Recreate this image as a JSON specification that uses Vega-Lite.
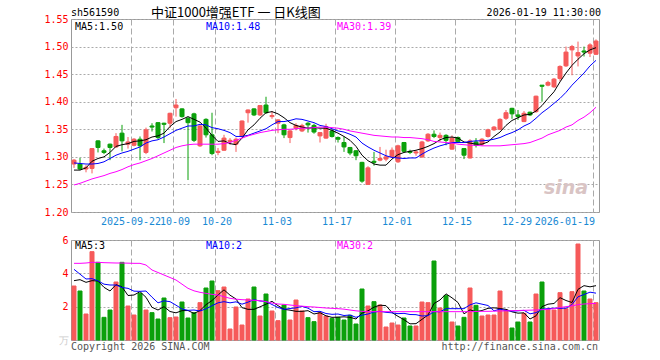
{
  "$schema": "https://vega.github.io/schema/vega-lite/v6.json",
  "background": "white",
  "padding": {"left": 43, "top": 6, "right": 0, "bottom": 0},
  "bounds": "flush",
  "spacing": 28,
  "config": {
    "view": {"stroke": "#999999", "strokeWidth": 1},
    "font": "DejaVu Sans Mono",
    "axis": {"labelFont": "DejaVu Sans Mono", "labelFontSize": 10, "title": null, "labelOverlap": false},
    "axisY": {"labelOverlap": false, "labelFlush": false, "labelBound": false}
  },
  "data": {"values": [
    {"d":"2025-09-08","o":1.287,"h":1.296,"l":1.280,"c":1.294,"v":3.24,"ma5":1.276,"ma10":1.289,"ma30":1.249,"vma5":3.56,"vma10":4.24,"vma30":4.60},
    {"d":"2025-09-09","o":1.287,"h":1.298,"l":1.276,"c":1.278,"v":2.94,"ma5":1.276,"ma10":1.288,"ma30":1.252,"vma5":3.62,"vma10":3.95,"vma30":4.60},
    {"d":"2025-09-10","o":1.278,"h":1.285,"l":1.272,"c":1.281,"v":1.56,"ma5":1.280,"ma10":1.287,"ma30":1.256,"vma5":3.46,"vma10":3.66,"vma30":4.62},
    {"d":"2025-09-11","o":1.279,"h":1.316,"l":1.270,"c":1.315,"v":5.30,"ma5":1.292,"ma10":1.287,"ma30":1.260,"vma5":3.56,"vma10":3.68,"vma30":4.66},
    {"d":"2025-09-12","o":1.329,"h":1.330,"l":1.308,"c":1.317,"v":4.66,"ma5":1.297,"ma10":1.288,"ma30":1.263,"vma5":3.54,"vma10":3.55,"vma30":4.66},
    {"d":"2025-09-15","o":1.311,"h":1.315,"l":1.305,"c":1.308,"v":1.36,"ma5":1.300,"ma10":1.291,"ma30":1.266,"vma5":3.16,"vma10":3.35,"vma30":4.64},
    {"d":"2025-09-16","o":1.323,"h":1.324,"l":1.294,"c":1.317,"v":1.80,"ma5":1.308,"ma10":1.297,"ma30":1.270,"vma5":2.94,"vma10":3.30,"vma30":4.63},
    {"d":"2025-09-17","o":1.318,"h":1.343,"l":1.316,"c":1.337,"v":3.48,"ma5":1.319,"ma10":1.303,"ma30":1.273,"vma5":3.32,"vma10":3.30,"vma30":4.62},
    {"d":"2025-09-18","o":1.343,"h":1.358,"l":1.310,"c":1.329,"v":4.66,"ma5":1.322,"ma10":1.307,"ma30":1.277,"vma5":3.19,"vma10":3.15,"vma30":4.62},
    {"d":"2025-09-19","o":1.323,"h":1.336,"l":1.315,"c":1.327,"v":2.04,"ma5":1.324,"ma10":1.310,"ma30":1.282,"vma5":2.67,"vma10":3.10,"vma30":4.61},
    {"d":"2025-09-22","o":1.321,"h":1.334,"l":1.319,"c":1.332,"v":1.50,"ma5":1.328,"ma10":1.314,"ma30":1.286,"vma5":2.70,"vma10":2.93,"vma30":4.60},
    {"d":"2025-09-23","o":1.332,"h":1.337,"l":1.294,"c":1.320,"v":2.80,"ma5":1.329,"ma10":1.318,"ma30":1.289,"vma5":2.90,"vma10":2.92,"vma30":4.60},
    {"d":"2025-09-24","o":1.308,"h":1.353,"l":1.305,"c":1.349,"v":1.80,"ma5":1.331,"ma10":1.325,"ma30":1.293,"vma5":2.56,"vma10":2.94,"vma30":4.50},
    {"d":"2025-09-25","o":1.356,"h":1.361,"l":1.346,"c":1.354,"v":1.64,"ma5":1.336,"ma10":1.329,"ma30":1.297,"vma5":1.96,"vma10":2.57,"vma30":4.20},
    {"d":"2025-09-26","o":1.362,"h":1.363,"l":1.332,"c":1.335,"v":1.26,"ma5":1.338,"ma10":1.331,"ma30":1.302,"vma5":1.80,"vma10":2.23,"vma30":4.05},
    {"d":"2025-09-29","o":1.361,"h":1.362,"l":1.325,"c":1.359,"v":2.52,"ma5":1.343,"ma10":1.336,"ma30":1.307,"vma5":2.00,"vma10":2.35,"vma30":3.90},
    {"d":"2025-09-30","o":1.361,"h":1.380,"l":1.352,"c":1.379,"v":1.34,"ma5":1.355,"ma10":1.342,"ma30":1.312,"vma5":1.71,"vma10":2.30,"vma30":3.75},
    {"d":"2025-10-09","o":1.389,"h":1.405,"l":1.373,"c":1.394,"v":1.38,"ma5":1.364,"ma10":1.348,"ma30":1.317,"vma5":1.63,"vma10":2.09,"vma30":3.60},
    {"d":"2025-10-10","o":1.387,"h":1.388,"l":1.371,"c":1.373,"v":2.28,"ma5":1.368,"ma10":1.352,"ma30":1.320,"vma5":1.76,"vma10":1.86,"vma30":3.35},
    {"d":"2025-10-13","o":1.370,"h":1.372,"l":1.258,"c":1.362,"v":1.32,"ma5":1.373,"ma10":1.356,"ma30":1.322,"vma5":1.77,"vma10":1.78,"vma30":3.10},
    {"d":"2025-10-14","o":1.378,"h":1.380,"l":1.327,"c":1.330,"v":1.64,"ma5":1.368,"ma10":1.356,"ma30":1.323,"vma5":1.59,"vma10":1.80,"vma30":2.95},
    {"d":"2025-10-15","o":1.320,"h":1.358,"l":1.318,"c":1.356,"v":2.24,"ma5":1.363,"ma10":1.359,"ma30":1.323,"vma5":1.77,"vma10":1.74,"vma30":2.86},
    {"d":"2025-10-16","o":1.368,"h":1.370,"l":1.335,"c":1.340,"v":3.12,"ma5":1.352,"ma10":1.358,"ma30":1.323,"vma5":2.12,"vma10":1.87,"vma30":2.80},
    {"d":"2025-10-17","o":1.340,"h":1.380,"l":1.303,"c":1.306,"v":3.54,"ma5":1.339,"ma10":1.353,"ma30":1.323,"vma5":2.37,"vma10":2.06,"vma30":2.74},
    {"d":"2025-10-20","o":1.308,"h":1.316,"l":1.303,"c":1.310,"v":2.96,"ma5":1.328,"ma10":1.351,"ma30":1.323,"vma5":2.70,"vma10":2.23,"vma30":2.70},
    {"d":"2025-10-21","o":1.312,"h":1.340,"l":1.311,"c":1.334,"v":3.18,"ma5":1.329,"ma10":1.348,"ma30":1.324,"vma5":3.01,"vma10":2.30,"vma30":2.60},
    {"d":"2025-10-22","o":1.328,"h":1.334,"l":1.322,"c":1.330,"v":0.66,"ma5":1.324,"ma10":1.344,"ma30":1.326,"vma5":2.69,"vma10":2.23,"vma30":2.50},
    {"d":"2025-10-23","o":1.323,"h":1.335,"l":1.309,"c":1.332,"v":1.98,"ma5":1.322,"ma10":1.337,"ma30":1.330,"vma5":2.46,"vma10":2.29,"vma30":2.45},
    {"d":"2025-10-24","o":1.337,"h":1.366,"l":1.335,"c":1.365,"v":0.90,"ma5":1.334,"ma10":1.337,"ma30":1.334,"vma5":1.94,"vma10":2.15,"vma30":2.42},
    {"d":"2025-10-27","o":1.380,"h":1.386,"l":1.362,"c":1.385,"v":2.46,"ma5":1.349,"ma10":1.339,"ma30":1.338,"vma5":1.84,"vma10":2.27,"vma30":2.40},
    {"d":"2025-10-28","o":1.387,"h":1.388,"l":1.374,"c":1.376,"v":3.18,"ma5":1.358,"ma10":1.343,"ma30":1.341,"vma5":1.84,"vma10":2.42,"vma30":2.38},
    {"d":"2025-10-29","o":1.376,"h":1.394,"l":1.374,"c":1.393,"v":1.44,"ma5":1.370,"ma10":1.347,"ma30":1.344,"vma5":1.99,"vma10":2.34,"vma30":2.36},
    {"d":"2025-10-30","o":1.394,"h":1.409,"l":1.378,"c":1.380,"v":2.76,"ma5":1.380,"ma10":1.351,"ma30":1.346,"vma5":2.15,"vma10":2.31,"vma30":2.30},
    {"d":"2025-10-31","o":1.373,"h":1.383,"l":1.369,"c":1.375,"v":1.74,"ma5":1.382,"ma10":1.358,"ma30":1.348,"vma5":2.32,"vma10":2.13,"vma30":2.22},
    {"d":"2025-11-03","o":1.361,"h":1.368,"l":1.343,"c":1.367,"v":1.16,"ma5":1.378,"ma10":1.364,"ma30":1.349,"vma5":2.06,"vma10":1.95,"vma30":2.16},
    {"d":"2025-11-04","o":1.358,"h":1.360,"l":1.334,"c":1.340,"v":2.10,"ma5":1.371,"ma10":1.364,"ma30":1.350,"vma5":1.84,"vma10":1.84,"vma30":2.14},
    {"d":"2025-11-05","o":1.335,"h":1.349,"l":1.325,"c":1.347,"v":1.20,"ma5":1.362,"ma10":1.366,"ma30":1.350,"vma5":1.79,"vma10":1.89,"vma30":2.10},
    {"d":"2025-11-06","o":1.352,"h":1.361,"l":1.348,"c":1.357,"v":2.40,"ma5":1.357,"ma10":1.369,"ma30":1.351,"vma5":1.72,"vma10":1.93,"vma30":2.06},
    {"d":"2025-11-07","o":1.347,"h":1.360,"l":1.345,"c":1.357,"v":1.74,"ma5":1.354,"ma10":1.368,"ma30":1.352,"vma5":1.72,"vma10":2.02,"vma30":2.03},
    {"d":"2025-11-10","o":1.361,"h":1.363,"l":1.344,"c":1.358,"v":1.34,"ma5":1.352,"ma10":1.365,"ma30":1.352,"vma5":1.76,"vma10":1.91,"vma30":2.00},
    {"d":"2025-11-11","o":1.357,"h":1.360,"l":1.342,"c":1.345,"v":1.10,"ma5":1.353,"ma10":1.362,"ma30":1.353,"vma5":1.56,"vma10":1.70,"vma30":1.98},
    {"d":"2025-11-12","o":1.338,"h":1.345,"l":1.326,"c":1.344,"v":1.64,"ma5":1.352,"ma10":1.357,"ma30":1.354,"vma5":1.64,"vma10":1.72,"vma30":1.95},
    {"d":"2025-11-13","o":1.334,"h":1.360,"l":1.333,"c":1.355,"v":1.44,"ma5":1.352,"ma10":1.355,"ma30":1.354,"vma5":1.45,"vma10":1.59,"vma30":1.92},
    {"d":"2025-11-14","o":1.347,"h":1.350,"l":1.335,"c":1.337,"v":1.30,"ma5":1.348,"ma10":1.351,"ma30":1.353,"vma5":1.36,"vma10":1.54,"vma30":1.90},
    {"d":"2025-11-17","o":1.335,"h":1.337,"l":1.326,"c":1.332,"v":1.36,"ma5":1.343,"ma10":1.347,"ma30":1.352,"vma5":1.37,"vma10":1.56,"vma30":1.88},
    {"d":"2025-11-18","o":1.326,"h":1.337,"l":1.309,"c":1.318,"v":1.20,"ma5":1.337,"ma10":1.345,"ma30":1.350,"vma5":1.39,"vma10":1.47,"vma30":1.85},
    {"d":"2025-11-19","o":1.317,"h":1.318,"l":1.303,"c":1.307,"v":1.48,"ma5":1.330,"ma10":1.341,"ma30":1.347,"vma5":1.36,"vma10":1.50,"vma30":1.80},
    {"d":"2025-11-20","o":1.311,"h":1.312,"l":1.294,"c":1.302,"v":0.96,"ma5":1.319,"ma10":1.336,"ma30":1.345,"vma5":1.26,"vma10":1.36,"vma30":1.75},
    {"d":"2025-11-21","o":1.290,"h":1.291,"l":1.253,"c":1.256,"v":3.06,"ma5":1.303,"ma10":1.325,"ma30":1.343,"vma5":1.61,"vma10":1.49,"vma30":1.72},
    {"d":"2025-11-24","o":1.250,"h":1.283,"l":1.249,"c":1.280,"v":2.04,"ma5":1.293,"ma10":1.318,"ma30":1.341,"vma5":1.75,"vma10":1.56,"vma30":1.70},
    {"d":"2025-11-25","o":1.292,"h":1.309,"l":1.284,"c":1.290,"v":2.30,"ma5":1.287,"ma10":1.312,"ma30":1.339,"vma5":1.97,"vma10":1.68,"vma30":1.70},
    {"d":"2025-11-26","o":1.294,"h":1.318,"l":1.292,"c":1.297,"v":2.10,"ma5":1.285,"ma10":1.307,"ma30":1.338,"vma5":2.09,"vma10":1.72,"vma30":1.70},
    {"d":"2025-11-27","o":1.296,"h":1.313,"l":1.292,"c":1.300,"v":0.78,"ma5":1.285,"ma10":1.302,"ma30":1.337,"vma5":2.06,"vma10":1.66,"vma30":1.70},
    {"d":"2025-11-28","o":1.300,"h":1.317,"l":1.298,"c":1.312,"v":1.02,"ma5":1.296,"ma10":1.299,"ma30":1.336,"vma5":1.65,"vma10":1.63,"vma30":1.70},
    {"d":"2025-12-01","o":1.291,"h":1.322,"l":1.289,"c":1.320,"v":0.90,"ma5":1.304,"ma10":1.298,"ma30":1.336,"vma5":1.42,"vma10":1.58,"vma30":1.70},
    {"d":"2025-12-02","o":1.326,"h":1.327,"l":1.308,"c":1.310,"v":1.32,"ma5":1.308,"ma10":1.297,"ma30":1.335,"vma5":1.22,"vma10":1.60,"vma30":1.70},
    {"d":"2025-12-03","o":1.310,"h":1.313,"l":1.305,"c":1.308,"v":0.84,"ma5":1.310,"ma10":1.298,"ma30":1.335,"vma5":0.97,"vma10":1.53,"vma30":1.70},
    {"d":"2025-12-04","o":1.307,"h":1.312,"l":1.302,"c":1.309,"v":0.84,"ma5":1.312,"ma10":1.298,"ma30":1.334,"vma5":0.98,"vma10":1.52,"vma30":1.70},
    {"d":"2025-12-05","o":1.300,"h":1.329,"l":1.298,"c":1.327,"v":2.28,"ma5":1.315,"ma10":1.305,"ma30":1.333,"vma5":1.24,"vma10":1.44,"vma30":1.70},
    {"d":"2025-12-08","o":1.329,"h":1.343,"l":1.327,"c":1.341,"v":2.24,"ma5":1.319,"ma10":1.311,"ma30":1.331,"vma5":1.50,"vma10":1.46,"vma30":1.70},
    {"d":"2025-12-09","o":1.341,"h":1.348,"l":1.334,"c":1.337,"v":4.74,"ma5":1.324,"ma10":1.316,"ma30":1.328,"vma5":2.19,"vma10":1.71,"vma30":1.70},
    {"d":"2025-12-10","o":1.335,"h":1.344,"l":1.328,"c":1.339,"v":1.92,"ma5":1.331,"ma10":1.320,"ma30":1.327,"vma5":2.40,"vma10":1.69,"vma30":1.70},
    {"d":"2025-12-11","o":1.339,"h":1.341,"l":1.321,"c":1.330,"v":2.66,"ma5":1.335,"ma10":1.323,"ma30":1.326,"vma5":2.77,"vma10":1.88,"vma30":1.70},
    {"d":"2025-12-12","o":1.314,"h":1.339,"l":1.313,"c":1.334,"v":1.08,"ma5":1.336,"ma10":1.326,"ma30":1.325,"vma5":2.53,"vma10":1.88,"vma30":1.70},
    {"d":"2025-12-15","o":1.335,"h":1.337,"l":1.325,"c":1.328,"v":0.84,"ma5":1.334,"ma10":1.326,"ma30":1.323,"vma5":2.25,"vma10":1.88,"vma30":1.70},
    {"d":"2025-12-16","o":1.315,"h":1.316,"l":1.296,"c":1.303,"v":1.36,"ma5":1.327,"ma10":1.326,"ma30":1.322,"vma5":1.57,"vma10":1.88,"vma30":1.70},
    {"d":"2025-12-17","o":1.298,"h":1.332,"l":1.297,"c":1.329,"v":3.12,"ma5":1.325,"ma10":1.328,"ma30":1.321,"vma5":1.81,"vma10":2.11,"vma30":1.70},
    {"d":"2025-12-18","o":1.327,"h":1.334,"l":1.317,"c":1.321,"v":2.08,"ma5":1.323,"ma10":1.329,"ma30":1.321,"vma5":1.70,"vma10":2.23,"vma30":1.71},
    {"d":"2025-12-19","o":1.323,"h":1.334,"l":1.320,"c":1.332,"v":1.44,"ma5":1.323,"ma10":1.329,"ma30":1.320,"vma5":1.77,"vma10":2.15,"vma30":1.72},
    {"d":"2025-12-22","o":1.337,"h":1.351,"l":1.335,"c":1.349,"v":1.50,"ma5":1.327,"ma10":1.330,"ma30":1.320,"vma5":1.90,"vma10":2.07,"vma30":1.72},
    {"d":"2025-12-23","o":1.349,"h":1.356,"l":1.347,"c":1.354,"v":1.50,"ma5":1.337,"ma10":1.332,"ma30":1.320,"vma5":1.93,"vma10":1.75,"vma30":1.73},
    {"d":"2025-12-24","o":1.350,"h":1.370,"l":1.349,"c":1.368,"v":2.94,"ma5":1.345,"ma10":1.335,"ma30":1.320,"vma5":1.89,"vma10":1.85,"vma30":1.74},
    {"d":"2025-12-25","o":1.370,"h":1.385,"l":1.367,"c":1.380,"v":1.80,"ma5":1.357,"ma10":1.340,"ma30":1.321,"vma5":1.84,"vma10":1.77,"vma30":1.75},
    {"d":"2025-12-26","o":1.388,"h":1.389,"l":1.369,"c":1.378,"v":0.72,"ma5":1.366,"ma10":1.344,"ma30":1.322,"vma5":1.69,"vma10":1.73,"vma30":1.76},
    {"d":"2025-12-29","o":1.376,"h":1.385,"l":1.367,"c":1.373,"v":1.08,"ma5":1.371,"ma10":1.349,"ma30":1.323,"vma5":1.61,"vma10":1.75,"vma30":1.77},
    {"d":"2025-12-30","o":1.364,"h":1.383,"l":1.363,"c":1.379,"v":1.60,"ma5":1.376,"ma10":1.356,"ma30":1.324,"vma5":1.63,"vma10":1.78,"vma30":1.78},
    {"d":"2025-12-31","o":1.381,"h":1.382,"l":1.374,"c":1.376,"v":1.08,"ma5":1.377,"ma10":1.361,"ma30":1.326,"vma5":1.26,"vma10":1.57,"vma30":1.79},
    {"d":"2026-01-05","o":1.382,"h":1.411,"l":1.380,"c":1.410,"v":2.76,"ma5":1.383,"ma10":1.370,"ma30":1.330,"vma5":1.45,"vma10":1.64,"vma30":1.80},
    {"d":"2026-01-06","o":1.430,"h":1.430,"l":1.400,"c":1.428,"v":3.48,"ma5":1.393,"ma10":1.380,"ma30":1.334,"vma5":2.00,"vma10":1.85,"vma30":1.82},
    {"d":"2026-01-07","o":1.430,"h":1.438,"l":1.428,"c":1.435,"v":1.84,"ma5":1.406,"ma10":1.388,"ma30":1.340,"vma5":2.15,"vma10":1.88,"vma30":1.84},
    {"d":"2026-01-08","o":1.427,"h":1.443,"l":1.425,"c":1.441,"v":1.80,"ma5":1.418,"ma10":1.397,"ma30":1.344,"vma5":2.19,"vma10":1.91,"vma30":1.88},
    {"d":"2026-01-09","o":1.442,"h":1.466,"l":1.437,"c":1.464,"v":2.84,"ma5":1.436,"ma10":1.406,"ma30":1.348,"vma5":2.54,"vma10":1.90,"vma30":1.95},
    {"d":"2026-01-12","o":1.465,"h":1.500,"l":1.463,"c":1.490,"v":1.88,"ma5":1.452,"ma10":1.417,"ma30":1.354,"vma5":2.37,"vma10":1.91,"vma30":2.00},
    {"d":"2026-01-13","o":1.494,"h":1.503,"l":1.448,"c":1.500,"v":2.90,"ma5":1.466,"ma10":1.430,"ma30":1.358,"vma5":2.25,"vma10":2.13,"vma30":2.05},
    {"d":"2026-01-14","o":1.483,"h":1.509,"l":1.464,"c":1.489,"v":5.76,"ma5":1.477,"ma10":1.441,"ma30":1.366,"vma5":3.04,"vma10":2.59,"vma30":2.12},
    {"d":"2026-01-15","o":1.492,"h":1.500,"l":1.482,"c":1.490,"v":2.94,"ma5":1.487,"ma10":1.452,"ma30":1.372,"vma5":3.26,"vma10":2.73,"vma30":2.16},
    {"d":"2026-01-16","o":1.488,"h":1.506,"l":1.481,"c":1.503,"v":2.46,"ma5":1.494,"ma10":1.465,"ma30":1.380,"vma5":3.19,"vma10":2.87,"vma30":2.18},
    {"d":"2026-01-19","o":1.486,"h":1.513,"l":1.485,"c":1.510,"v":2.24,"ma5":1.498,"ma10":1.475,"ma30":1.390,"vma5":3.26,"vma10":2.81,"vma30":2.20}
  ]},
  "vconcat": [
    {
      "width": 528,
      "height": 193,
      "resolve": {"scale": {"y": "independent"}, "axis": {"y": "independent"}},
      "encoding": {
        "x": {
          "field": "d", "type": "ordinal",
          "scale": {"paddingInner": 0.33, "paddingOuter": 0.165},
          "axis": {
            "values": ["2025-09-22","2025-10-09","2025-10-20","2025-11-03","2025-11-17","2025-12-01","2025-12-15","2025-12-29","2026-01-19"],
            "labelExpr": "(datum.value == '2025-09-22' || datum.value == '2026-01-19') ? datum.value : slice(datum.value, 5)",
            "labelAngle": 0,
            "labelAlign": {"condition": {"test": "datum.value == '2026-01-19'", "value": "right"}, "value": "center"},
            "labelOffset": {"condition": {"test": "datum.value == '2025-09-22'", "value": -3}, "value": -1},
            "labelColor": "#1a8ad4",
            "labelOverlap": false,
            "labelFlush": false,
            "labelBound": false,
            "labelPadding": 4,
            "bandPosition": 0,
            "ticks": false,
            "domain": false,
            "grid": true,
            "gridColor": "#aaaaaa",
            "gridDash": [6, 3],
            "title": null
          }
        }
      },
      "layer": [
        {
          "mark": {"type": "rule", "strokeWidth": 1},
          "encoding": {
            "y": {
              "field": "l", "type": "quantitative",
              "scale": {"domain": [1.2, 1.55], "nice": false, "zero": false},
              "axis": {
                "values": [1.2, 1.25, 1.3, 1.35, 1.4, 1.45, 1.5, 1.55],
                "format": ".2f",
                "labelColor": "#ff0000",
                "labelPadding": 3,
                "labelOverlap": false,
                "labelBound": false,
                "labelFlush": false,
                "ticks": false,
                "domain": false,
                "grid": true,
                "gridColor": "#aaaaaa",
                "gridDash": [2, 2],
                "title": null
              }
            },
            "y2": {"field": "h"},
            "color": {"condition": {"test": "datum.c >= datum.o", "value": "#f65a5a"}, "value": "#0ba00b"}
          }
        },
        {
          "mark": {"type": "bar", "strokeWidth": 1},
          "encoding": {
            "y": {"field": "o", "type": "quantitative", "scale": {"domain": [1.2, 1.55], "nice": false, "zero": false}, "axis": null},
            "y2": {"field": "c"},
            "color": {"condition": {"test": "datum.c >= datum.o", "value": "#f65a5a"}, "value": "#0ba00b"},
            "stroke": {"condition": {"test": "datum.c >= datum.o", "value": "#f65a5a"}, "value": "#0ba00b"}
          }
        },
        {"mark": {"type": "line", "color": "#000000", "strokeWidth": 1}, "encoding": {"y": {"field": "ma5", "type": "quantitative", "scale": {"domain": [1.2, 1.55], "nice": false, "zero": false}, "axis": null}}},
        {"mark": {"type": "line", "color": "#0000ff", "strokeWidth": 1}, "encoding": {"y": {"field": "ma10", "type": "quantitative", "scale": {"domain": [1.2, 1.55], "nice": false, "zero": false}, "axis": null}}},
        {"mark": {"type": "line", "color": "#ff00ff", "strokeWidth": 1}, "encoding": {"y": {"field": "ma30", "type": "quantitative", "scale": {"domain": [1.2, 1.55], "nice": false, "zero": false}, "axis": null}}},
        {
          "data": {"values": [{}]},
          "mark": {"type": "text", "text": "sina", "align": "center", "baseline": "middle", "fontSize": 19, "fontWeight": "bold", "fontStyle": "italic", "font": "DejaVu Sans", "color": "#d9c4c4"},
          "encoding": {"x": {"datum": "2026-01-12", "type": "ordinal"}, "y": {"datum": 1.243, "type": "quantitative", "scale": {"domain": [1.2, 1.55], "nice": false, "zero": false}, "axis": null}}
        },
        {
          "data": {"values": [{}]},
          "mark": {"type": "text", "text": "sh561590", "align": "left", "baseline": "middle", "dx": -3, "dy": -6, "fontSize": 10, "font": "DejaVu Sans Mono", "color": "#000000"},
          "encoding": {"x": {"datum": "2025-09-08", "type": "ordinal"}, "y": {"datum": 1.55, "type": "quantitative", "scale": {"domain": [1.2, 1.55], "nice": false, "zero": false}, "axis": null}}
        },
        {
          "data": {"values": [{}]},
          "mark": {"type": "text", "text": "中证1000增强ETF 一 日K线图", "align": "left", "baseline": "middle", "dx": -1, "dy": -6, "fontSize": 13, "font": "Noto Sans CJK SC", "color": "#000000"},
          "encoding": {"x": {"datum": "2025-09-25", "type": "ordinal"}, "y": {"datum": 1.55, "type": "quantitative", "scale": {"domain": [1.2, 1.55], "nice": false, "zero": false}, "axis": null}}
        },
        {
          "data": {"values": [{}]},
          "mark": {"type": "text", "text": "2026-01-19 11:30:00", "align": "right", "baseline": "middle", "dx": 5, "dy": -6, "fontSize": 10, "font": "DejaVu Sans Mono", "color": "#000000"},
          "encoding": {"x": {"datum": "2026-01-19", "type": "ordinal"}, "y": {"datum": 1.55, "type": "quantitative", "scale": {"domain": [1.2, 1.55], "nice": false, "zero": false}, "axis": null}}
        },
        {
          "data": {"values": [{}]},
          "mark": {"type": "text", "text": "MA5:1.50", "align": "left", "baseline": "middle", "dx": 1, "dy": 8, "fontSize": 10, "font": "DejaVu Sans Mono", "color": "#000000"},
          "encoding": {"x": {"datum": "2025-09-08", "type": "ordinal"}, "y": {"datum": 1.55, "type": "quantitative", "scale": {"domain": [1.2, 1.55], "nice": false, "zero": false}, "axis": null}}
        },
        {
          "data": {"values": [{}]},
          "mark": {"type": "text", "text": "MA10:1.48", "align": "left", "baseline": "middle", "dx": 0, "dy": 8, "fontSize": 10, "font": "DejaVu Sans Mono", "color": "#0000ff"},
          "encoding": {"x": {"datum": "2025-10-16", "type": "ordinal"}, "y": {"datum": 1.55, "type": "quantitative", "scale": {"domain": [1.2, 1.55], "nice": false, "zero": false}, "axis": null}}
        },
        {
          "data": {"values": [{}]},
          "mark": {"type": "text", "text": "MA30:1.39", "align": "left", "baseline": "middle", "dx": -1, "dy": 8, "fontSize": 10, "font": "DejaVu Sans Mono", "color": "#ff00ff"},
          "encoding": {"x": {"datum": "2025-11-17", "type": "ordinal"}, "y": {"datum": 1.55, "type": "quantitative", "scale": {"domain": [1.2, 1.55], "nice": false, "zero": false}, "axis": null}}
        }
      ]
    },
    {
      "width": 528,
      "height": 100,
      "resolve": {"scale": {"y": "independent"}, "axis": {"y": "independent"}},
      "encoding": {
        "x": {
          "field": "d", "type": "ordinal",
          "scale": {"paddingInner": 0.33, "paddingOuter": 0.165},
          "axis": {
            "values": ["2025-09-22","2025-10-09","2025-10-20","2025-11-03","2025-11-17","2025-12-01","2025-12-15","2025-12-29","2026-01-19"],
            "labels": false,
            "bandPosition": 0,
            "ticks": false,
            "domain": false,
            "grid": true,
            "gridColor": "#aaaaaa",
            "gridDash": [6, 3],
            "title": null
          }
        }
      },
      "layer": [
        {
          "mark": {"type": "bar", "strokeWidth": 1},
          "encoding": {
            "y": {
              "field": "v", "type": "quantitative",
              "scale": {"domain": [0, 6], "nice": false},
              "axis": {
                "values": [0, 2, 4, 6],
                "labelExpr": "datum.value == 0 ? '万' : datum.label",
                "labelColor": {"condition": {"test": "datum.value == 0", "value": "#cccccc"}, "value": "#ff0000"},
                "labelPadding": 3,
                "labelOverlap": false,
                "labelBound": false,
                "labelFlush": false,
                "ticks": false,
                "domain": false,
                "grid": true,
                "gridColor": "#aaaaaa",
                "gridDash": [2, 2],
                "title": null
              }
            },
            "color": {"condition": {"test": "datum.c >= datum.o", "value": "#f65a5a"}, "value": "#0ba00b"},
            "stroke": {"condition": {"test": "datum.c >= datum.o", "value": "#f65a5a"}, "value": "#0ba00b"}
          }
        },
        {"mark": {"type": "line", "color": "#000000", "strokeWidth": 1}, "encoding": {"y": {"field": "vma5", "type": "quantitative", "scale": {"domain": [0, 6], "nice": false}, "axis": null}}},
        {"mark": {"type": "line", "color": "#0000ff", "strokeWidth": 1}, "encoding": {"y": {"field": "vma10", "type": "quantitative", "scale": {"domain": [0, 6], "nice": false}, "axis": null}}},
        {"mark": {"type": "line", "color": "#ff00ff", "strokeWidth": 1}, "encoding": {"y": {"field": "vma30", "type": "quantitative", "scale": {"domain": [0, 6], "nice": false}, "axis": null}}},
        {
          "data": {"values": [{}]},
          "mark": {"type": "text", "text": "MA5:3", "align": "left", "baseline": "middle", "dx": 1, "dy": 6, "fontSize": 10, "font": "DejaVu Sans Mono", "color": "#000000"},
          "encoding": {"x": {"datum": "2025-09-08", "type": "ordinal"}, "y": {"datum": 6, "type": "quantitative", "scale": {"domain": [0, 6], "nice": false}, "axis": null}}
        },
        {
          "data": {"values": [{}]},
          "mark": {"type": "text", "text": "MA10:2", "align": "left", "baseline": "middle", "dx": 0, "dy": 6, "fontSize": 10, "font": "DejaVu Sans Mono", "color": "#0000ff"},
          "encoding": {"x": {"datum": "2025-10-16", "type": "ordinal"}, "y": {"datum": 6, "type": "quantitative", "scale": {"domain": [0, 6], "nice": false}, "axis": null}}
        },
        {
          "data": {"values": [{}]},
          "mark": {"type": "text", "text": "MA30:2", "align": "left", "baseline": "middle", "dx": -1, "dy": 6, "fontSize": 10, "font": "DejaVu Sans Mono", "color": "#ff00ff"},
          "encoding": {"x": {"datum": "2025-11-17", "type": "ordinal"}, "y": {"datum": 6, "type": "quantitative", "scale": {"domain": [0, 6], "nice": false}, "axis": null}}
        },
        {
          "data": {"values": [{}]},
          "mark": {"type": "text", "text": "Copyright 2026 SINA.COM", "align": "left", "baseline": "middle", "dx": -3, "dy": 7, "fontSize": 10, "font": "DejaVu Sans Mono", "color": "#555555"},
          "encoding": {"x": {"datum": "2025-09-08", "type": "ordinal"}, "y": {"datum": 0, "type": "quantitative", "scale": {"domain": [0, 6], "nice": false}, "axis": null}}
        },
        {
          "data": {"values": [{}]},
          "mark": {"type": "text", "text": "http://finance.sina.com.cn", "align": "right", "baseline": "middle", "dx": 2, "dy": 7, "fontSize": 10, "font": "DejaVu Sans Mono", "color": "#555555"},
          "encoding": {"x": {"datum": "2026-01-19", "type": "ordinal"}, "y": {"datum": 0, "type": "quantitative", "scale": {"domain": [0, 6], "nice": false}, "axis": null}}
        }
      ]
    }
  ]
}
